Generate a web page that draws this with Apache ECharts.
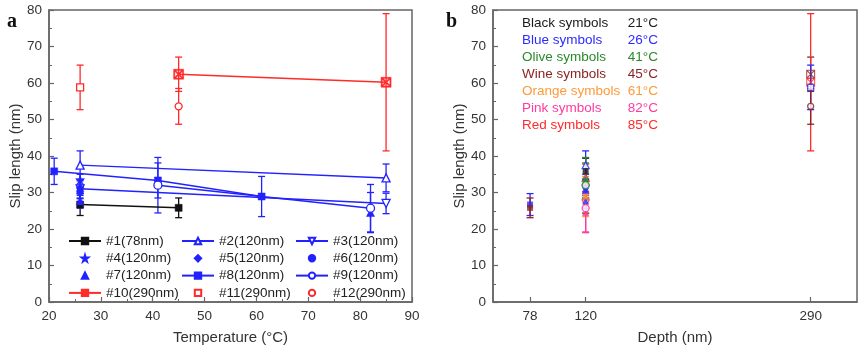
<!DOCTYPE html>
<html><head><meta charset="utf-8">
<script src="https://cdn.jsdelivr.net/npm/echarts@6/dist/echarts.min.js"></script>
<style>html,body{margin:0;padding:0;background:#fff}#c{width:865px;height:355px}</style>
</head><body><div id="c"></div>
<script>
// ---- data ----
const seriesNames = ['#1(78nm)','#2(120nm)','#3(120nm)','#4(120nm)','#5(120nm)','#6(120nm)','#7(120nm)','#8(120nm)','#9(120nm)','#10(290nm)','#11(290nm)','#12(290nm)'];
const seriesDepth = [78,120,120,120,120,120,120,120,120,290,290,290];
const t1=[26,45], v1=[26.7,25.8], e1=[3.0,2.7];
const t2=[26,85], v2=[37.5,34.0], e2=[3.9,3.8];
const t3=[26,85], v3=[31.0,27.0], e3=[2.5,2.8];
const t4=[26], v4=[33.5], e4=[1.5];
const t5=[26], v5=[31.2], e5=[2.0];
const t6=[26], v6=[30.3], e6=[2.0];
const t7=[26,82], v7=[27.7,24.5], e7=[2.0,5.5];
const t8=[21,41,61], v8=[35.8,33.3,28.9], e8=[3.6,4.8,5.5];
const t9=[41,82], v9=[32.0,25.7], e9=[7.6,6.5];
const t10=[45,85], v10=[62.4,60.2], e10=[4.7,18.8];
const t11=[26], v11=[58.8], e11=[6.1];
const t12=[45], v12=[53.6], e12=[4.9];
const xTicksA=[20,30,40,50,60,70,80,90];
const yTicks=[0,10,20,30,40,50,60,70,80];
const depthTicks=[78,120,290];
const tempLegendNames=['Black symbols','Blue symbols','Olive symbols','Wine symbols','Orange symbols','Pink symbols','Red symbols'];
const tempLegendTemps=[21,26,41,45,61,82,85];

// ---- styling ----
const BLK='#111111', BLU='#2222ff', RED='#ff2a2a';
const tempColors={21:'#1a1a1a',26:'#2b2bff',41:'#2a8a2a',45:'#8b2323',61:'#ff9a3a',82:'#ff3aa0',85:'#ff2a2a'};
const T=[t1,t2,t3,t4,t5,t6,t7,t8,t9,t10,t11,t12];
const V=[v1,v2,v3,v4,v5,v6,v7,v8,v9,v10,v11,v12];
const E=[e1,e2,e3,e4,e5,e6,e7,e8,e9,e10,e11,e12];
const colors=[BLK,BLU,BLU,BLU,BLU,BLU,BLU,BLU,BLU,RED,RED,RED];
const hasLine=[true,true,true,false,false,false,false,true,true,true,false,false];
const STAR='path://M50,0 L61,35 L98,35 L68,57 L79,91 L50,70 L21,91 L32,57 L2,35 L39,35 Z';
const TRIDOWN='path://M0,0 L10,0 L5,9 Z';
const XSQ='path://M0,0H10V10H0Z M1.2,1.2V8.8H8.8V1.2Z M1.5,0.5L9.5,8.5L8.5,9.5L0.5,1.5Z M8.5,0.5L9.5,1.5L1.5,9.5L0.5,8.5Z';
const symbols=['rect','triangle',TRIDOWN,STAR,'diamond','circle','triangle','rect','circle',XSQ,'rect','circle'];
const openSym=[false,true,true,false,false,false,false,false,true,false,true,true];
const symSize=[7,8,8,9,8,7,8,7,8,10,7,7];
const FONT='"Liberation Sans", Arial, sans-serif';
const AX='#666';

function errRender(params, api){
  const x=api.value(0), y=api.value(1), e=api.value(2), col=api.value(3);
  const p1=api.coord([x,y+e]), p2=api.coord([x,y-e]);
  const w=3.5, st={stroke:col,lineWidth:1.3};
  return {type:'group',children:[
    {type:'line',shape:{x1:p1[0],y1:p1[1],x2:p2[0],y2:p2[1]},style:st},
    {type:'line',shape:{x1:p1[0]-w,y1:p1[1],x2:p1[0]+w,y2:p1[1]},style:st},
    {type:'line',shape:{x1:p2[0]-w,y1:p2[1],x2:p2[0]+w,y2:p2[1]},style:st}
  ]};
}

const series=[];
const errA=[], errB=[];
for(let i=0;i<12;i++){
  const col=colors[i];
  const data=T[i].map((t,j)=>[t,V[i][j]]);
  T[i].forEach((t,j)=>{
    errA.push([t,V[i][j],E[i][j],col]);
    errB.push([seriesDepth[i],V[i][j],E[i][j],tempColors[t]]);
  });
  const itemStyle=openSym[i]?{color:'#fff',borderColor:col,borderWidth:1.3}:{color:col,borderColor:col,borderWidth:0.5};
  series.push({
    name:seriesNames[i], type:'line', xAxisIndex:0,yAxisIndex:0,
    data:data, symbol:symbols[i], symbolSize:symSize[i], showAllSymbol:true,
    itemStyle:itemStyle,
    lineStyle:hasLine[i]?{color:col,width:1.5}:{color:col,width:0,opacity:0},
    z:5, animation:false
  });
  // panel b: same values at the sample depth, coloured by temperature
  series.push({
    name:'b'+i, type:'scatter', xAxisIndex:1,yAxisIndex:1,
    data:T[i].map((t,j)=>({value:[seriesDepth[i],V[i][j]],itemStyle:openSym[i]?{color:'#fff',borderColor:tempColors[t],borderWidth:1.3}:{color:tempColors[t]}})),
    symbol:symbols[i], symbolSize:symSize[i]-1, z:5, animation:false
  });
}
series.unshift({type:'custom',name:'errA',xAxisIndex:0,yAxisIndex:0,renderItem:errRender,data:errA,z:3,animation:false,encode:{x:0,y:1}});
series.unshift({type:'custom',name:'errB',xAxisIndex:1,yAxisIndex:1,renderItem:errRender,data:errB,z:3,animation:false,encode:{x:0,y:1}});

const axisCommon={
  axisLine:{show:true,onZero:false,lineStyle:{color:AX,width:1.5}},
  axisTick:{show:true,inside:true,length:5,lineStyle:{color:AX,width:1.2}},
  axisLabel:{color:'#333',fontSize:13.5,fontFamily:FONT,margin:7},
  splitLine:{show:false},
  nameTextStyle:{color:'#333',fontSize:15,fontFamily:FONT},
  nameLocation:'middle'
};
const yAxisDef=(gi)=>Object.assign({},axisCommon,{type:'value',gridIndex:gi,min:yTicks[0],max:yTicks[yTicks.length-1],interval:10,
  name:'Slip length (nm)',nameGap:25,
  minorTick:{show:true,splitNumber:2,length:3,lineStyle:{color:AX}}});

const legendCommon={orient:'vertical',itemWidth:32,itemHeight:8,itemGap:2.3,
  textStyle:{fontSize:13.5,color:'#222',fontFamily:FONT,lineHeight:15},
  selectedMode:false,top:233.5,padding:0};

const graphics=[
  {type:'text',left:7,top:12,style:{text:'a',font:'bold 20px "Liberation Serif", serif',fill:'#111'}},
  {type:'text',left:446,top:12,style:{text:'b',font:'bold 20px "Liberation Serif", serif',fill:'#111'}}
];
tempLegendNames.forEach((n,k)=>{
  const c=tempColors[tempLegendTemps[k]];
  graphics.push({type:'text',left:522,top:16+k*17,style:{text:n,font:'13.5px '+FONT,fill:c}});
  graphics.push({type:'text',right:865-658,top:16+k*17,style:{text:tempLegendTemps[k]+'°C',font:'13.5px '+FONT,fill:c,align:'right'}});
});

const option={
  animation:false,
  backgroundColor:'#fff',
  grid:[
    {left:49,top:10,width:363,height:292,show:true,borderColor:AX,borderWidth:1.5},
    {left:493,top:10,width:364,height:292,show:true,borderColor:AX,borderWidth:1.5}
  ],
  xAxis:[
    Object.assign({},axisCommon,{type:'value',gridIndex:0,min:xTicksA[0],max:xTicksA[xTicksA.length-1],interval:10,name:'Temperature (°C)',nameGap:28,
      minorTick:{show:true,splitNumber:2,length:3,lineStyle:{color:AX}}}),
    Object.assign({},axisCommon,{type:'value',gridIndex:1,min:50,max:325,name:'Depth (nm)',nameGap:28,
      axisTick:{show:true,inside:true,length:5,customValues:depthTicks,lineStyle:{color:AX,width:1.2}},
      axisLabel:{color:'#333',fontSize:13.5,fontFamily:FONT,margin:7,customValues:depthTicks}})
  ],
  yAxis:[yAxisDef(0),yAxisDef(1)],
  legend:[
    Object.assign({},legendCommon,{left:68,data:[seriesNames[0],seriesNames[3],seriesNames[6],seriesNames[9]]}),
    Object.assign({},legendCommon,{left:181,data:[seriesNames[1],seriesNames[4],seriesNames[7],seriesNames[10]]}),
    Object.assign({},legendCommon,{left:295,data:[seriesNames[2],seriesNames[5],seriesNames[8],seriesNames[11]]})
  ],
  graphic:graphics,
  series:series
};
const chart=echarts.init(document.getElementById('c'),null,{renderer:'canvas'});
chart.setOption(option);
</script></body></html>
